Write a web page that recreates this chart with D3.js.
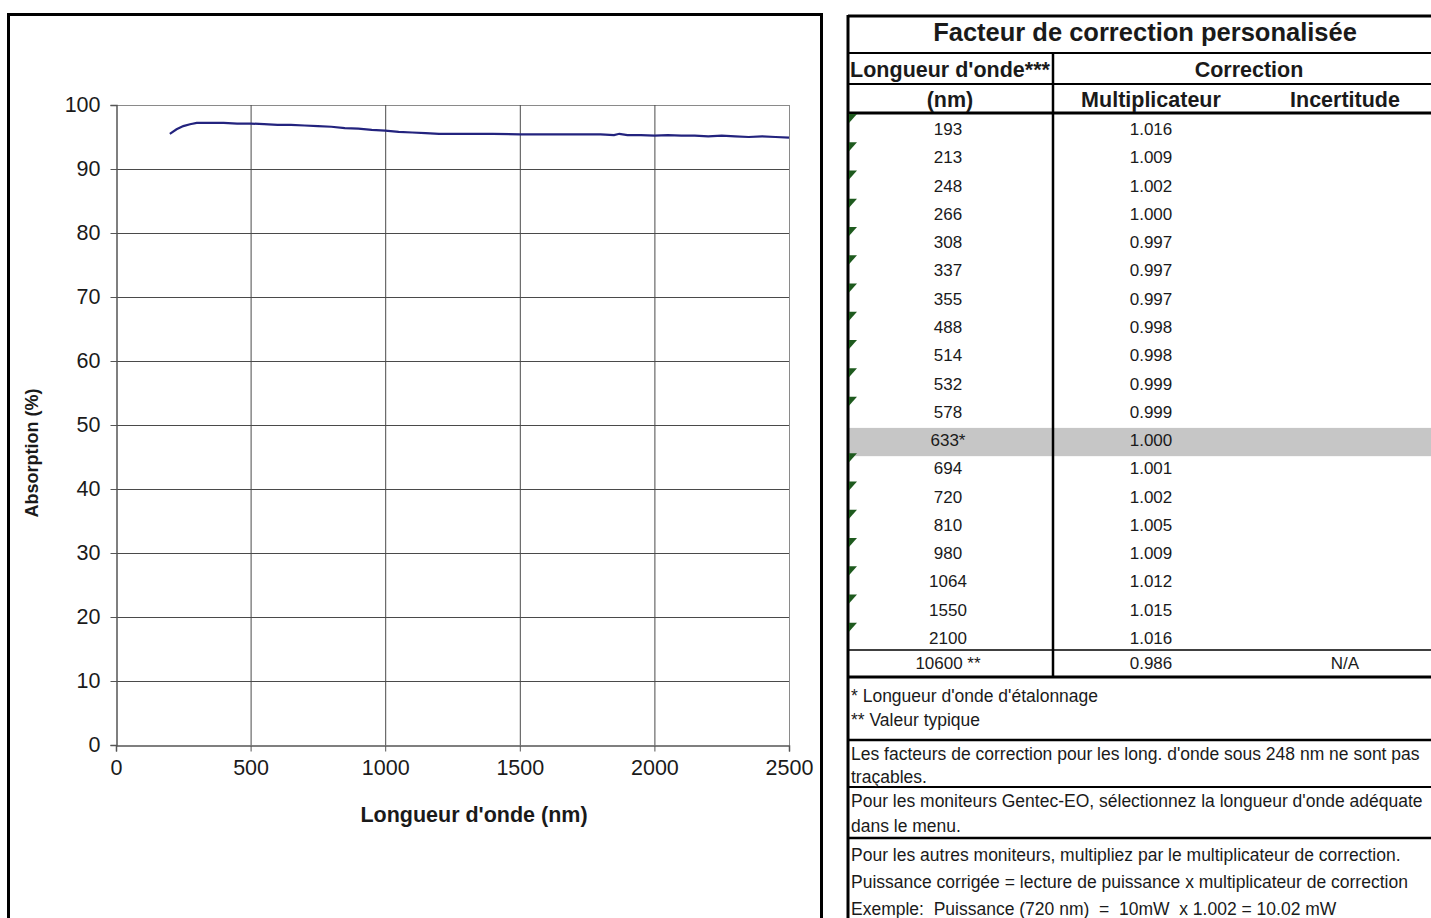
<!DOCTYPE html>
<html>
<head>
<meta charset="utf-8">
<script src="https://cdn.jsdelivr.net/npm/d3@7"></script>
<style>
  body { margin: 0; background: #fff; }
  text { font-family: "Liberation Sans", Arial, sans-serif; fill: #1a1a1a; white-space: pre; }
</style>
</head>
<body>
<div id="chart"></div>
<script>
// curve
var wavelength = [200, 225, 250, 275, 300, 350, 400, 450, 500, 550, 600, 650, 700, 750, 800, 850, 900, 950, 1000,
  1050, 1100, 1150, 1200, 1300, 1400, 1500, 1600, 1700, 1800, 1850, 1870, 1900, 1950, 2000, 2050, 2100, 2150,
  2200, 2250, 2300, 2350, 2400, 2450, 2500];
var absorption = [95.5, 96.2, 96.7, 97.0, 97.2, 97.2, 97.2, 97.1, 97.1, 97.0, 96.9, 96.9, 96.8, 96.7, 96.6, 96.4, 96.3, 96.1, 96.0,
  95.8, 95.7, 95.6, 95.5, 95.5, 95.5, 95.4, 95.4, 95.4, 95.4, 95.3, 95.5, 95.3, 95.3, 95.2, 95.3, 95.2, 95.2,
  95.1, 95.2, 95.1, 95.0, 95.1, 95.0, 94.9];
var xTicks = [0, 500, 1000, 1500, 2000, 2500];
var yTicks = [0, 10, 20, 30, 40, 50, 60, 70, 80, 90, 100];

// table
var waveLabels = ["193", "213", "248", "266", "308", "337", "355", "488", "514", "532", "578", "633*",
  "694", "720", "810", "980", "1064", "1550", "2100"];
var multipliers = ["1.016", "1.009", "1.002", "1.000", "0.997", "0.997", "0.997", "0.998", "0.998", "0.999",
  "0.999", "1.000", "1.001", "1.002", "1.005", "1.009", "1.012", "1.015", "1.016"];
var lastRow = ["10600 **", "0.986", "N/A"];
var notes1 = ["* Longueur d'onde d'étalonnage", "** Valeur typique"];
var notes2 = ["Les facteurs de correction pour les long. d'onde sous 248 nm ne sont pas", "traçables."];
var notes3 = ["Pour les moniteurs Gentec-EO, sélectionnez la longueur d'onde adéquate", "dans le menu."];
var notes4 = ["Pour les autres moniteurs, multipliez par le multiplicateur de correction.",
  "Puissance corrigée = lecture de puissance x multiplicateur de correction",
  "Exemple:  Puissance (720 nm)  =  10mW  x 1.002 = 10.02 mW"];

var width = 1431, height = 918;
var svg = d3.select("#chart").append("svg")
  .attr("width", width)
  .attr("height", height);

// ---------- chart ----------
svg.append("rect")
  .attr("x", 8.5).attr("y", 14.5).attr("width", 813).attr("height", 920)
  .attr("fill", "#fff").attr("stroke", "#000").attr("stroke-width", 3);

var x = d3.scaleLinear().domain([0, 2500]).range([116, 789]);
var y = d3.scaleLinear().domain([0, 100]).range([745, 105]);

// grid
svg.append("g").selectAll("line").data(yTicks.slice(1))
  .enter().append("line")
  .attr("x1", x(0)).attr("x2", x(2500))
  .attr("y1", function(d) { return y(d) + 0.5; }).attr("y2", function(d) { return y(d) + 0.5; })
  .attr("stroke", function(d) { return d == 100 ? "#8a8a8a" : "#4a4a4a"; })
  .attr("stroke-width", 1);
svg.append("g").selectAll("line").data(xTicks.slice(1))
  .enter().append("line")
  .attr("y1", y(0)).attr("y2", y(100))
  .attr("x1", function(d) { return x(d) + 0.5; }).attr("x2", function(d) { return x(d) + 0.5; })
  .attr("stroke", function(d) { return d == 2500 ? "#8a8a8a" : "#4a4a4a"; })
  .attr("stroke-width", 1);

var yAxis = svg.append("g")
  .attr("transform", "translate(" + (x(0) + 0.5) + ",0)")
  .call(d3.axisLeft(y).tickValues(yTicks).tickFormat(d3.format("d")).tickSize(6).tickPadding(10));
var xAxis = svg.append("g")
  .attr("transform", "translate(0," + (y(0) + 0.5) + ")")
  .call(d3.axisBottom(x).tickValues(xTicks).tickFormat(d3.format("d")).tickSize(6).tickPadding(8));
[yAxis, xAxis].forEach(function(a) {
  a.select(".domain").attr("stroke", "#555").attr("stroke-width", 1.5);
  a.selectAll(".tick line").attr("stroke", "#555");
  a.selectAll(".tick text").style("font-size", "21.5px").attr("fill", "#1a1a1a")
    .style("font-family", "'Liberation Sans', Arial, sans-serif");
});

var line = d3.line()
  .x(function(d, i) { return x(wavelength[i]); })
  .y(function(d) { return y(d); });
svg.append("path")
  .datum(absorption)
  .attr("d", line)
  .attr("fill", "none")
  .attr("stroke", "#23237e")
  .attr("stroke-width", 2.2);

svg.append("text")
  .attr("x", 474).attr("y", 822)
  .attr("text-anchor", "middle")
  .style("font-size", "21.5px").style("font-weight", "bold")
  .text("Longueur d'onde (nm)");
svg.append("text")
  .attr("transform", "translate(38,453) rotate(-90)")
  .attr("text-anchor", "middle")
  .style("font-size", "18px").style("font-weight", "bold")
  .text("Absorption (%)");

// ---------- table ----------
var tL = 848, tR = 1445, colA = 1053;
var rows = d3.scaleBand().domain(d3.range(waveLabels.length)).range([113, 650]);
var tab = svg.append("g");

// highlighted calibration row
var hi = waveLabels.indexOf("633*");
tab.append("rect")
  .attr("x", tL).attr("y", rows(hi) + 4).attr("width", tR - tL).attr("height", rows.bandwidth())
  .attr("fill", "#c6c6c6");

function hline(yy, w) {
  tab.append("line").attr("x1", tL).attr("x2", tR).attr("y1", yy).attr("y2", yy)
    .attr("stroke", "#000").attr("stroke-width", w);
}
function vline(xx, y1, y2, w) {
  tab.append("line").attr("x1", xx).attr("x2", xx).attr("y1", y1).attr("y2", y2)
    .attr("stroke", "#000").attr("stroke-width", w);
}
hline(16, 3); hline(53, 2); hline(84, 2); hline(113, 3);
hline(650, 1.5); hline(677, 3); hline(740, 2.5); hline(787, 2); hline(838, 2.5);
vline(tL, 15, 918, 3);
vline(colA, 53, 677, 2.5);

function txt(xx, yy, s, size, bold, anchor) {
  tab.append("text").attr("x", xx).attr("y", yy)
    .attr("text-anchor", anchor || "middle")
    .style("font-size", size + "px").style("font-weight", bold ? "bold" : "normal")
    .text(s);
}
txt(1145, 41, "Facteur de correction personalisée", 25.5, true);
txt(950, 77, "Longueur d'onde***", 21.5, true);
txt(1249, 77, "Correction", 21.5, true);
txt(950, 107, "(nm)", 21.5, true);
txt(1151, 107, "Multiplicateur", 21.5, true);
txt(1345, 107, "Incertitude", 21.5, true);

tab.append("g").selectAll("text.wl").data(waveLabels)
  .enter().append("text")
  .attr("x", 948).attr("y", function(d, i) { return rows(i) + rows.bandwidth() / 2 + 8; })
  .attr("text-anchor", "middle").style("font-size", "17px")
  .text(function(d) { return d; });
tab.append("g").selectAll("text.mu").data(multipliers)
  .enter().append("text")
  .attr("x", 1151).attr("y", function(d, i) { return rows(i) + rows.bandwidth() / 2 + 8; })
  .attr("text-anchor", "middle").style("font-size", "17px")
  .text(function(d) { return d; });

// little green markers in the wavelength cells
tab.append("g").selectAll("path").data(waveLabels.filter(function(d) { return d != "633*"; }))
  .enter().append("path")
  .attr("d", function(d) {
    var t = rows(waveLabels.indexOf(d)) + 1;
    return "M" + (tL + 1) + "," + t + "L" + (tL + 9) + "," + t + "L" + (tL + 1) + "," + (t + 9) + "Z";
  })
  .attr("fill", "#1e5a1e");

txt(948, 669, lastRow[0], 17, false);
txt(1151, 669, lastRow[1], 17, false);
txt(1345, 669, lastRow[2], 17, false);

function noteBlock(lines, y0, step) {
  lines.forEach(function(s, i) { txt(851, y0 + i * step, s, 17.5, false, "start"); });
}
noteBlock(notes1, 702, 24);
noteBlock(notes2, 760, 23);
noteBlock(notes3, 807, 25);
noteBlock(notes4, 861, 27);
</script>
</body>
</html>
